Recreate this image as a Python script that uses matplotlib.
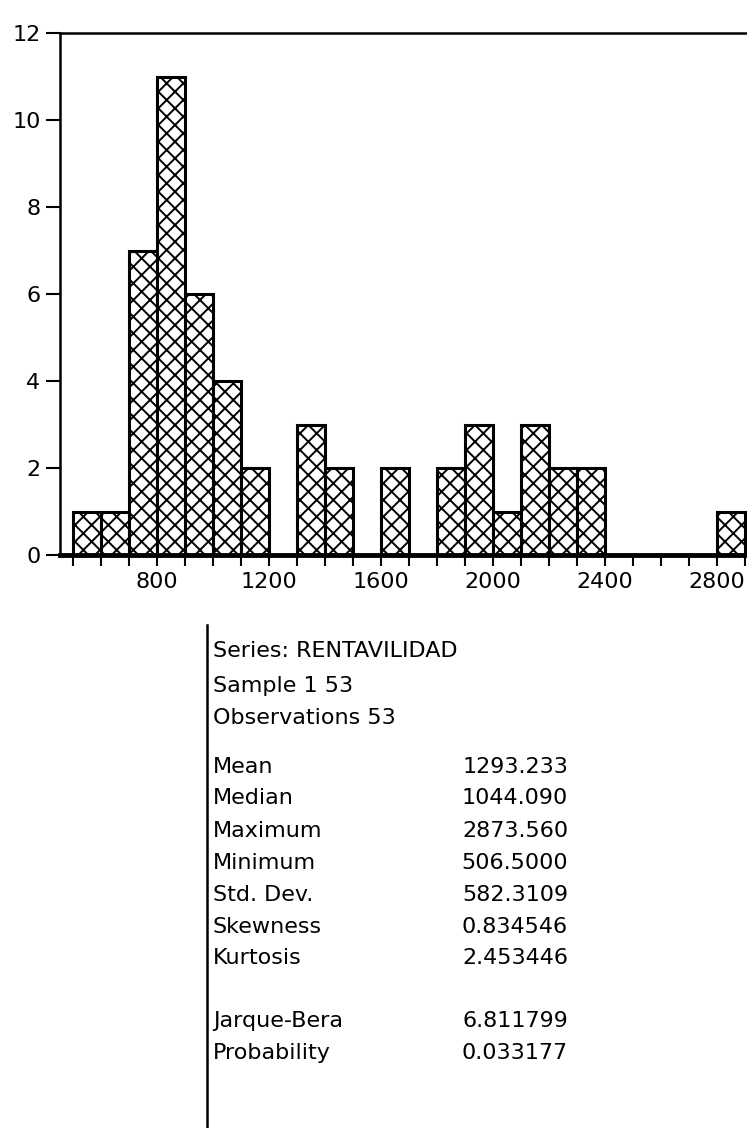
import matplotlib
matplotlib.use("Agg")
import matplotlib.pyplot as plt
from matplotlib.lines import Line2D
from matplotlib.ticker import MultipleLocator, FixedLocator

# ---- data ----
bin_left = [500, 600, 700, 800, 900, 1000, 1100, 1200, 1300, 1400, 1500, 1600,
            1700, 1800, 1900, 2000, 2100, 2200, 2300, 2400, 2500, 2600, 2700, 2800]
counts = [1, 1, 7, 11, 6, 4, 2, 0, 3, 2, 0, 2,
          0, 2, 3, 1, 3, 2, 2, 0, 0, 0, 0, 1]
bin_width = 100
x_ticks = [800, 1200, 1600, 2000, 2400, 2800]
y_ticks = [0, 2, 4, 6, 8, 10, 12]

stats_header = ["Series: RENTAVILIDAD", "Sample 1 53", "Observations 53"]
stat_names = ["Mean", "Median", "Maximum", "Minimum", "Std. Dev.", "Skewness", "Kurtosis"]
stat_values = ["1293.233", "1044.090", "2873.560", "506.5000", "582.3109", "0.834546", "2.453446"]
test_names = ["Jarque-Bera", "Probability"]
test_values = ["6.811799", "0.033177"]

W, H = 747, 1128
plt.rcParams['font.family'] = ['DejaVu Sans']
plt.rcParams['hatch.linewidth'] = 1.4

fig = plt.figure(figsize=(W / 100, H / 100), dpi=100)
fig.patch.set_facecolor("white")

def px(x, y):
    return x / W, 1 - y / H

ax = fig.add_axes([60 / W, (H - 555) / H, (W - 60) / W, (555 - 33) / H])
ax.bar(bin_left, counts, width=bin_width, align='edge', facecolor='white',
       edgecolor='black', linewidth=2.2, hatch='xx', zorder=2)
ax.set_xlim(453.6, 2907)
ax.set_ylim(0, 12)
ax.xaxis.set_major_locator(FixedLocator(x_ticks))
ax.xaxis.set_minor_locator(MultipleLocator(100))
ax.set_yticks(y_ticks)
ax.tick_params(axis='x', which='both', direction='out', length=8, width=1.5,
               labelsize=16, pad=4)
ax.tick_params(axis='y', direction='out', length=10, width=1.5, labelsize=16, pad=4)
ax.spines['right'].set_visible(False)
ax.spines['top'].set_linewidth(1.8)
ax.spines['left'].set_linewidth(1.8)
ax.spines['bottom'].set_linewidth(3.5)
ax.spines['bottom'].set_zorder(3)

# stats panel
fig.add_artist(Line2D([207 / W, 207 / W], [1 - 625 / H, 0], color='black', lw=1.8))
fs = 16
header_y = [651, 686, 718]
for t, y in zip(stats_header, header_y):
    fig.text(*px(213, y), t, fontsize=fs, va='center', ha='left')
stat_y = [767, 798, 831, 863, 895, 927, 958]
for n, v, y in zip(stat_names, stat_values, stat_y):
    fig.text(*px(213, y), n, fontsize=fs, va='center', ha='left')
    fig.text(*px(568, y), v, fontsize=fs, va='center', ha='right')
test_y = [1021, 1053]
for n, v, y in zip(test_names, test_values, test_y):
    fig.text(*px(213, y), n, fontsize=fs, va='center', ha='left')
    fig.text(*px(568, y), v, fontsize=fs, va='center', ha='right')

fig.savefig("out.png", dpi=100, facecolor="white")
